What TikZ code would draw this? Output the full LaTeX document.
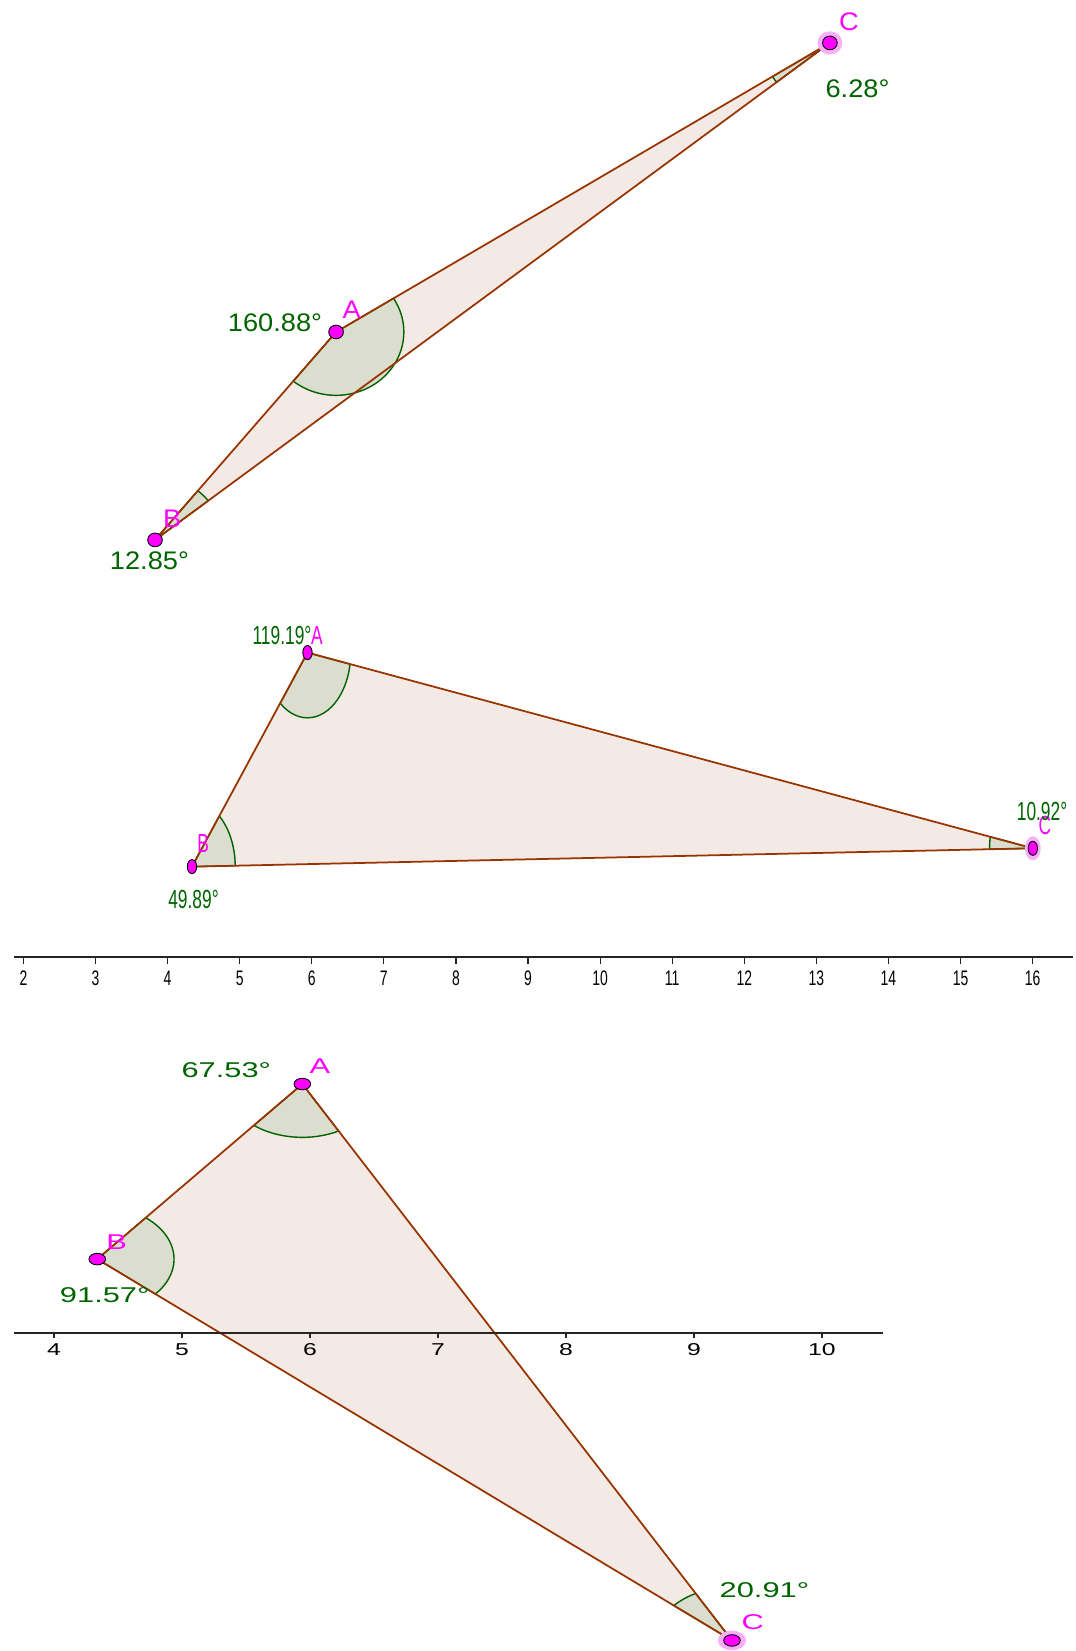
\documentclass[tikz,border=0pt]{standalone}
\usepackage{fontspec}
\setmainfont{Liberation Sans}
\definecolor{polybrown}{RGB}{153,51,0}
\definecolor{polyfill}{RGB}{244,234,229}
\definecolor{anggreen}{RGB}{0,100,0}
\definecolor{angfill}{RGB}{219,221,206}
\definecolor{ptmag}{RGB}{255,0,255}
\definecolor{ptglowc}{RGB}{250,175,250}
\tikzset{
  triside/.style={draw=polybrown, line width=1pt, line join=round},
  angsec/.style={draw=anggreen, line width=0.8pt, fill=angfill},
  ptdot/.style={circle, draw=black, line width=0.5pt, fill=ptmag, inner sep=0pt, minimum size=0.13cm},
  ptglow/.style={circle, fill=ptglowc, inner sep=0pt, minimum size=0.22cm},
  ptlabel/.style={text=ptmag, inner sep=0pt, font=\fontsize{6.85}{8}\selectfont},
  anglabel/.style={text=anggreen, inner sep=0pt, font=\fontsize{6.85}{8}\selectfont},
  axisline/.style={draw=black!85, line width=1pt},
  axtick/.style={draw=black!85, line width=0.7pt},
  ticklabel/.style={inner sep=0pt, font=\fontsize{5.5}{6}\selectfont}
}
\begin{document}
\begin{tikzpicture}
  \useasboundingbox (0,0) rectangle (21.5,33.02);

  % top triangle
  \begin{scope}[shift={(-6.704,20.466)}, xscale=2.26, yscale=2.112, transform shape]
    \coordinate (A1) at (5.94,2.80);
    \coordinate (B1) at (4.338,0.831);
    \coordinate (C1) at (10.31,5.537);
    \fill[polyfill] (A1) -- (B1) -- (C1) -- cycle;
    \filldraw[angsec] (A1) -- ++(-129.13:0.6) arc[start angle=-129.13, end angle=32.06, radius=0.6] -- cycle;
    \filldraw[angsec] (B1) -- ++(38.24:0.6) arc[start angle=38.24, end angle=50.87, radius=0.6] -- cycle;
    \filldraw[angsec] (C1) -- ++(212.06:0.6) arc[start angle=212.06, end angle=218.24, radius=0.6] -- cycle;
    \draw[triside] (A1) -- (B1) -- (C1) -- cycle;
    \node[ptglow] (gC1) at (C1) {};
    \node[ptdot] (pA1) at (A1) {};
    \node[ptdot] (pB1) at (B1) {};
    \node[ptdot] (pC1) at (C1) {};
    \node[ptlabel] (lA1) at (6.079,3.015) {A};
    \node[ptlabel] (lB1) at (4.491,1.029) {B};
    \node[ptlabel] (lC1) at (10.48,5.74) {C};
    \node[anglabel] (aA1) at (5.40,2.885) {160.88°};
    \node[anglabel] (aB1) at (4.289,0.630) {12.85°};
    \node[anglabel] (aC1) at (10.555,5.108) {6.28°};
  \end{scope}

  % middle triangle with axis
  \begin{scope}[shift={(-2.4156,13.88)}, xscale=1.4418, yscale=2.174, transform shape]
    \coordinate (A2) at (5.94,2.80);
    \coordinate (B2) at (4.338,0.831);
    \coordinate (C2) at (16,1.0);
    \fill[polyfill] (A2) -- (B2) -- (C2) -- cycle;
    \filldraw[angsec] (A2) -- ++(-129.13:0.6) arc[start angle=-129.13, end angle=-10.14, radius=0.6] -- cycle;
    \filldraw[angsec] (B2) -- ++(0.83:0.6) arc[start angle=0.83, end angle=50.87, radius=0.6] -- cycle;
    \filldraw[angsec] (C2) -- ++(169.86:0.6) arc[start angle=169.86, end angle=180.83, radius=0.6] -- cycle;
    \draw[triside] (A2) -- (B2) -- (C2) -- cycle;
    \node[ptglow] (gC2) at (C2) {};
    \node[ptdot] (pA2) at (A2) {};
    \node[ptdot] (pB2) at (B2) {};
    \node[ptdot] (pC2) at (C2) {};
    \node[ptlabel] (lA2) at (6.072,2.962) {A};
    \node[ptlabel] (lB2) at (4.494,1.045) {B};
    \node[ptlabel] (lC2) at (16.17,1.214) {C};
    \node[anglabel] (aA2) at (5.587,2.962) {119.19°};
    \node[anglabel] (aB2) at (4.36,0.53) {49.89°};
    \node[anglabel] (aC2) at (16.13,1.334) {10.92°};
    \draw[axisline] (1.87,0) -- (16.56,0);
    \foreach \t in {2,...,16} {
      \draw[axtick] (\t,0) -- (\t,-0.065);
      \node[ticklabel] (tm\t) at (\t,-0.196) {\t};
    }
  \end{scope}

  % bottom triangle with axis
  \begin{scope}[shift={(-9.162,6.36)}, xscale=2.56, yscale=1.778, transform shape]
    \coordinate (A3) at (5.94,2.80);
    \coordinate (B3) at (4.338,0.831);
    \coordinate (C3) at (9.296,-3.458);
    \fill[polyfill] (A3) -- (B3) -- (C3) -- cycle;
    \filldraw[angsec] (A3) -- ++(-129.13:0.6) arc[start angle=-129.13, end angle=-61.80, radius=0.6] -- cycle;
    \filldraw[angsec] (B3) -- ++(-40.86:0.6) arc[start angle=-40.86, end angle=50.87, radius=0.6] -- cycle;
    \filldraw[angsec] (C3) -- ++(118.20:0.6) arc[start angle=118.20, end angle=139.14, radius=0.6] -- cycle;
    \draw[triside] (A3) -- (B3) -- (C3) -- cycle;
    \draw[axisline] (3.688,0) -- (10.48,0);
    \foreach \t in {4,...,10} {
      \draw[axtick] (\t,0) -- (\t,-0.056);
      \node[ticklabel] (tb\t) at (\t,-0.186) {\t};
    }
    \node[ptglow] (gC3) at (C3) {};
    \node[ptdot] (pA3) at (A3) {};
    \node[ptdot] (pB3) at (B3) {};
    \node[ptdot] (pC3) at (C3) {};
    \node[ptlabel] (lA3) at (6.079,3.007) {A};
    \node[ptlabel] (lB3) at (4.49,1.027) {B};
    \node[ptlabel] (lC3) at (9.46,-3.256) {C};
    \node[anglabel] (aA3) at (5.347,2.958) {67.53°};
    \node[anglabel] (aB3) at (4.397,0.427) {91.57°};
    \node[anglabel] (aC3) at (9.551,-2.89) {20.91°};
  \end{scope}
\end{tikzpicture}
\end{document}
